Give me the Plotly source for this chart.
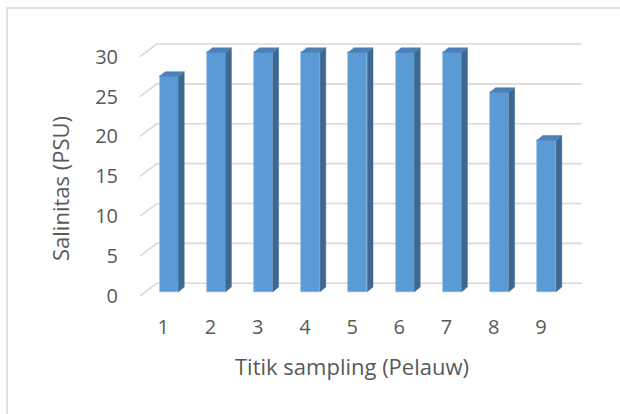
import plotly.graph_objects as go

# ---- data ----
categories = ["1", "2", "3", "4", "5", "6", "7", "8", "9"]
salinity = [27, 30, 30, 30, 30, 30, 30, 25, 19]
y_ticks = [0, 5, 10, 15, 20, 25, 30]
x_title = "Titik sampling (Pelauw)"
y_title = "Salinitas (PSU)"

# ---- geometry (pixel layout of the pseudo-3D chart) ----
W, H = 620, 414
PL, PR, PT, PB = 130, 600, 20, 300          # plot area in pixels
UX = 47.2                                     # px per category
UY = 7.977                                    # px per PSU
X1_PX = 163.3                                 # px of category 1 at front plane
Y0_PX = 296.0                                 # px of 0 at front plane

x_range = [1 + (PL - X1_PX) / UX, 1 + (PR - X1_PX) / UX]
y_range = [(Y0_PX - PB) / UY, (Y0_PX - PT) / UY]

bar_w = 19 / UX
bar_dx, bar_dy = 5.7 / UX, 4.3 / UY          # bar front face offset from front plane
dep_dx, dep_dy = 5.7 / UX, 4.6 / UY          # bar depth
wall_dx, wall_dy = 16.7 / UX, 12.7 / UY      # back wall offset
grid_x0 = 1 + (140 - X1_PX) / UX
grid_x1 = 1 + (582 - X1_PX) / UX

FRONT = "#5B9BD5"
TOP = "#4C80B8"
SIDE = "#3D6890"
GRID = "#D9D9D9"
TXT = "#595959"
FONT = "'Open Sans', 'Noto Sans', sans-serif"

pos = list(range(1, len(categories) + 1))

fig = go.Figure()

# front faces
fig.add_trace(go.Bar(
    x=[p + bar_dx for p in pos], y=salinity, base=bar_dy, width=bar_w,
    marker=dict(color=FRONT, line=dict(color="#7FB2E0", width=0.6)),
    showlegend=False, hoverinfo="skip",
))

# side faces
sx, sy = [], []
for p, v in zip(pos, salinity):
    xr = p + bar_dx + bar_w / 2
    b = bar_dy
    sx += [xr, xr + dep_dx, xr + dep_dx, xr, xr, None]
    sy += [b, b + dep_dy, v + b + dep_dy, v + b, b, None]
fig.add_trace(go.Scatter(x=sx, y=sy, mode="lines", fill="toself",
                         fillcolor=SIDE, line=dict(color=SIDE, width=0.5),
                         showlegend=False, hoverinfo="skip"))

# top faces
tx, ty = [], []
for p, v in zip(pos, salinity):
    xl = p + bar_dx - bar_w / 2
    xr = p + bar_dx + bar_w / 2
    t = v + bar_dy
    tx += [xl, xr, xr + dep_dx, xl + dep_dx, xl, None]
    ty += [t, t, t + dep_dy, t + dep_dy, t, None]
fig.add_trace(go.Scatter(x=tx, y=ty, mode="lines", fill="toself",
                         fillcolor=TOP, line=dict(color=TOP, width=0.5),
                         showlegend=False, hoverinfo="skip"))

# gridlines (floor edge + back wall)
shapes = []
for t in y_ticks:
    shapes.append(dict(type="line", xref="x", yref="y", layer="below",
                       x0=grid_x0, y0=t, x1=grid_x0 + wall_dx, y1=t + wall_dy,
                       line=dict(color=GRID, width=1.6)))
    shapes.append(dict(type="line", xref="x", yref="y", layer="below",
                       x0=grid_x0 + wall_dx, y0=t + wall_dy, x1=grid_x1, y1=t + wall_dy,
                       line=dict(color=GRID, width=1.6)))

# chart border
pw, ph = PR - PL, PB - PT
shapes.append(dict(type="rect", xref="paper", yref="paper", layer="below",
                   x0=(7 - PL) / pw, x1=(660 - PL) / pw,
                   y0=(PB - 450) / ph, y1=(PB - 8) / ph,
                   line=dict(color=GRID, width=1.5), fillcolor="rgba(0,0,0,0)"))

annotations = [
    dict(text=x_title, xref="paper", yref="paper",
         x=(352 - PL) / pw, y=(PB - 366) / ph, xanchor="center", yanchor="middle",
         showarrow=False, font=dict(family=FONT, size=22, color=TXT)),
    dict(text=y_title, xref="paper", yref="paper", textangle=-90,
         x=(60 - PL) / pw, y=(PB - 189) / ph, xanchor="center", yanchor="middle",
         showarrow=False, font=dict(family=FONT, size=22, color=TXT)),
]

fig.update_layout(
    width=W, height=H,
    margin=dict(l=PL, r=W - PR, t=PT, b=H - PB, pad=0),
    paper_bgcolor="white", plot_bgcolor="white",
    shapes=shapes, annotations=annotations,
    font=dict(family=FONT, color=TXT, size=20),
    xaxis=dict(range=x_range, tickvals=pos, ticktext=categories,
               showgrid=False, zeroline=False, showline=False, ticks="",
               ticklabelstandoff=13, fixedrange=True),
    yaxis=dict(range=y_range, tickvals=y_ticks, showgrid=False, zeroline=False,
               showline=False, ticks="", ticklabelstandoff=11, fixedrange=True),
    bargap=0,
)

fig.write_html("out.html", config={"displayModeBar": False},
               post_script="document.body.style.margin='0';document.body.style.overflow='hidden';")
